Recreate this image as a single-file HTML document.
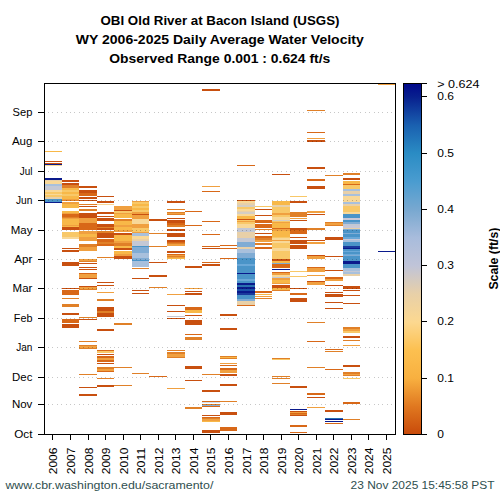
<!DOCTYPE html><html><head><meta charset="utf-8"><style>html,body{margin:0;padding:0;background:#fff;width:500px;height:500px;overflow:hidden}svg{display:block}text{font-family:"Liberation Sans",sans-serif}</style></head><body>
<svg width="500" height="500" viewBox="0 0 500 500" shape-rendering="crispEdges">
<rect width="500" height="500" fill="#fff"/>
<g font-weight="bold" font-size="13" fill="#000" text-anchor="middle">
<text x="220" y="24.6" textLength="239" lengthAdjust="spacingAndGlyphs">OBI Old River at Bacon Island (USGS)</text>
<text x="219.8" y="43.6" textLength="288" lengthAdjust="spacingAndGlyphs">WY 2006-2025 Daily Average Water Velocity</text>
<text x="219.8" y="62.7" textLength="221" lengthAdjust="spacingAndGlyphs">Observed Range 0.001 : 0.624 ft/s</text>
</g>
<g shape-rendering="crispEdges"><rect x="45" y="151" width="17" height="1" fill="#f8b848"/><rect x="45" y="161" width="17" height="1" fill="#c85010"/><rect x="45" y="163" width="17" height="1" fill="#c85010"/><rect x="45" y="164" width="17" height="1" fill="#0a1a8c"/><rect x="45" y="165" width="17" height="1" fill="#f8d898"/><rect x="45" y="178" width="17" height="2" fill="#0a1a8c"/><rect x="45" y="180" width="17" height="1" fill="#e8d0a8"/><rect x="45" y="181" width="17" height="3" fill="#f8d898"/><rect x="45" y="184" width="17" height="2" fill="#a8c0dc"/><rect x="45" y="186" width="17" height="4" fill="#c4c8d4"/><rect x="45" y="190" width="17" height="2" fill="#f8d898"/><rect x="45" y="192" width="17" height="2" fill="#f8c868"/><rect x="45" y="194" width="17" height="1" fill="#f8d898"/><rect x="45" y="195" width="17" height="2" fill="#f8c868"/><rect x="45" y="197" width="17" height="2" fill="#e8d0a8"/><rect x="45" y="199" width="17" height="3" fill="#4a94c8"/><rect x="45" y="202" width="17" height="1" fill="#0a1a8c"/><rect x="62" y="180" width="17" height="2" fill="#c85010"/><rect x="62" y="183" width="17" height="2" fill="#c85010"/><rect x="62" y="185" width="17" height="3" fill="#e08028"/><rect x="62" y="188" width="17" height="2" fill="#f8b848"/><rect x="62" y="190" width="17" height="2" fill="#f8c868"/><rect x="62" y="192" width="17" height="2" fill="#f8b848"/><rect x="62" y="194" width="17" height="2" fill="#f8c868"/><rect x="62" y="196" width="17" height="3" fill="#f8b848"/><rect x="62" y="199" width="17" height="1" fill="#f0a040"/><rect x="62" y="200" width="17" height="1" fill="#e08028"/><rect x="62" y="202" width="17" height="2" fill="#f0a040"/><rect x="62" y="204" width="17" height="4" fill="#f8b848"/><rect x="62" y="211" width="17" height="2" fill="#f8b848"/><rect x="62" y="213" width="17" height="1" fill="#f0a040"/><rect x="62" y="214" width="17" height="3" fill="#d86818"/><rect x="62" y="217" width="17" height="1" fill="#e08028"/><rect x="62" y="218" width="17" height="1" fill="#f0a040"/><rect x="62" y="219" width="17" height="6" fill="#f8b848"/><rect x="62" y="225" width="17" height="1" fill="#f0a040"/><rect x="62" y="226" width="17" height="1" fill="#f8b848"/><rect x="62" y="227" width="17" height="3" fill="#c85010"/><rect x="62" y="232" width="17" height="5" fill="#f8c868"/><rect x="62" y="237" width="17" height="2" fill="#f8d898"/><rect x="62" y="248" width="17" height="1" fill="#c85010"/><rect x="62" y="250" width="17" height="2" fill="#c85010"/><rect x="62" y="262" width="17" height="4" fill="#c85010"/><rect x="62" y="288" width="17" height="1" fill="#c85010"/><rect x="62" y="290" width="17" height="5" fill="#d86818"/><rect x="62" y="298" width="17" height="1" fill="#e08028"/><rect x="62" y="304" width="17" height="3" fill="#e08028"/><rect x="62" y="313" width="17" height="2" fill="#c85010"/><rect x="62" y="319" width="17" height="4" fill="#d86818"/><rect x="62" y="324" width="17" height="4" fill="#c85010"/><rect x="79" y="186" width="18" height="2" fill="#c85010"/><rect x="79" y="190" width="18" height="3" fill="#c85010"/><rect x="79" y="193" width="18" height="3" fill="#d86818"/><rect x="79" y="197" width="18" height="2" fill="#c85010"/><rect x="79" y="200" width="18" height="1" fill="#c85010"/><rect x="79" y="204" width="18" height="1" fill="#e08028"/><rect x="79" y="206" width="18" height="1" fill="#c85010"/><rect x="79" y="209" width="18" height="2" fill="#e08028"/><rect x="79" y="213" width="18" height="5" fill="#c85010"/><rect x="79" y="218" width="18" height="5" fill="#f0a040"/><rect x="79" y="223" width="18" height="7" fill="#d86818"/><rect x="79" y="231" width="18" height="3" fill="#f0a040"/><rect x="79" y="234" width="18" height="3" fill="#f8b848"/><rect x="79" y="237" width="18" height="4" fill="#f0a040"/><rect x="79" y="244" width="18" height="3" fill="#e08028"/><rect x="79" y="247" width="18" height="4" fill="#f0a040"/><rect x="79" y="259" width="18" height="2" fill="#f0a040"/><rect x="79" y="261" width="18" height="1" fill="#e08028"/><rect x="79" y="263" width="18" height="1" fill="#c85010"/><rect x="79" y="267" width="18" height="1" fill="#c85010"/><rect x="79" y="269" width="18" height="1" fill="#c85010"/><rect x="79" y="273" width="18" height="1" fill="#d86818"/><rect x="79" y="274" width="18" height="4" fill="#f0a040"/><rect x="79" y="278" width="18" height="1" fill="#c85010"/><rect x="79" y="286" width="18" height="1" fill="#c85010"/><rect x="79" y="287" width="18" height="2" fill="#f0a040"/><rect x="79" y="289" width="18" height="1" fill="#e08028"/><rect x="79" y="317" width="18" height="1" fill="#e08028"/><rect x="79" y="319" width="18" height="1" fill="#c85010"/><rect x="79" y="341" width="18" height="1" fill="#e08028"/><rect x="79" y="345" width="18" height="1" fill="#e08028"/><rect x="79" y="346" width="18" height="2" fill="#f0a040"/><rect x="79" y="348" width="18" height="1" fill="#e08028"/><rect x="79" y="374" width="18" height="1" fill="#e08028"/><rect x="79" y="387" width="18" height="1" fill="#c85010"/><rect x="79" y="394" width="18" height="2" fill="#c85010"/><rect x="97" y="196" width="17" height="1" fill="#c85010"/><rect x="97" y="201" width="17" height="2" fill="#c85010"/><rect x="97" y="204" width="17" height="1" fill="#f8d898"/><rect x="97" y="212" width="17" height="2" fill="#c85010"/><rect x="97" y="216" width="17" height="1" fill="#c85010"/><rect x="97" y="218" width="17" height="3" fill="#c85010"/><rect x="97" y="224" width="17" height="3" fill="#c85010"/><rect x="97" y="227" width="17" height="1" fill="#e08028"/><rect x="97" y="228" width="17" height="2" fill="#c85010"/><rect x="97" y="231" width="17" height="2" fill="#e08028"/><rect x="97" y="233" width="17" height="5" fill="#c85010"/><rect x="97" y="239" width="17" height="3" fill="#d86818"/><rect x="97" y="242" width="17" height="2" fill="#e08028"/><rect x="97" y="244" width="17" height="2" fill="#d86818"/><rect x="97" y="257" width="17" height="1" fill="#e08028"/><rect x="97" y="282" width="17" height="1" fill="#c85010"/><rect x="97" y="285" width="17" height="1" fill="#c85010"/><rect x="97" y="292" width="17" height="1" fill="#f0a040"/><rect x="97" y="299" width="17" height="2" fill="#e08028"/><rect x="97" y="307" width="17" height="4" fill="#c85010"/><rect x="97" y="311" width="17" height="2" fill="#e08028"/><rect x="97" y="313" width="17" height="4" fill="#c85010"/><rect x="97" y="329" width="17" height="2" fill="#c85010"/><rect x="97" y="350" width="17" height="1" fill="#d86818"/><rect x="97" y="351" width="17" height="2" fill="#f8c868"/><rect x="97" y="354" width="17" height="1" fill="#c85010"/><rect x="97" y="356" width="17" height="2" fill="#d86818"/><rect x="97" y="358" width="17" height="2" fill="#f0a040"/><rect x="97" y="360" width="17" height="2" fill="#d86818"/><rect x="97" y="363" width="17" height="1" fill="#c85010"/><rect x="97" y="367" width="17" height="2" fill="#e08028"/><rect x="97" y="369" width="17" height="2" fill="#f0a040"/><rect x="97" y="371" width="17" height="1" fill="#d86818"/><rect x="97" y="378" width="17" height="1" fill="#e08028"/><rect x="97" y="385" width="17" height="2" fill="#c85010"/><rect x="114" y="206" width="18" height="4" fill="#f0a040"/><rect x="114" y="210" width="18" height="1" fill="#c85010"/><rect x="114" y="211" width="18" height="2" fill="#f8c868"/><rect x="114" y="213" width="18" height="1" fill="#f0a040"/><rect x="114" y="214" width="18" height="4" fill="#f8b848"/><rect x="114" y="219" width="18" height="2" fill="#e08028"/><rect x="114" y="221" width="18" height="4" fill="#f8b848"/><rect x="114" y="225" width="18" height="2" fill="#f0a040"/><rect x="114" y="227" width="18" height="3" fill="#f8b848"/><rect x="114" y="230" width="18" height="2" fill="#f0a040"/><rect x="114" y="233" width="18" height="2" fill="#c85010"/><rect x="114" y="235" width="18" height="6" fill="#f8b848"/><rect x="114" y="241" width="18" height="2" fill="#f0a040"/><rect x="114" y="243" width="18" height="3" fill="#e08028"/><rect x="114" y="246" width="18" height="2" fill="#f8b848"/><rect x="114" y="248" width="18" height="2" fill="#c85010"/><rect x="114" y="251" width="18" height="3" fill="#f8b848"/><rect x="114" y="254" width="18" height="2" fill="#f0a040"/><rect x="114" y="256" width="18" height="3" fill="#c85010"/><rect x="114" y="323" width="18" height="2" fill="#e08028"/><rect x="114" y="367" width="18" height="1" fill="#e08028"/><rect x="114" y="385" width="18" height="1" fill="#e08028"/><rect x="132" y="201" width="17" height="1" fill="#f0a040"/><rect x="132" y="202" width="17" height="2" fill="#f8c868"/><rect x="132" y="204" width="17" height="2" fill="#f8b848"/><rect x="132" y="206" width="17" height="2" fill="#f8c868"/><rect x="132" y="208" width="17" height="2" fill="#f8b848"/><rect x="132" y="210" width="17" height="2" fill="#f8c868"/><rect x="132" y="212" width="17" height="2" fill="#f0a040"/><rect x="132" y="214" width="17" height="1" fill="#c85010"/><rect x="132" y="215" width="17" height="4" fill="#f0a040"/><rect x="132" y="219" width="17" height="5" fill="#f8d898"/><rect x="132" y="224" width="17" height="4" fill="#f0a040"/><rect x="132" y="228" width="17" height="4" fill="#f8c868"/><rect x="132" y="232" width="17" height="1" fill="#f0a040"/><rect x="132" y="233" width="17" height="3" fill="#a8c0dc"/><rect x="132" y="236" width="17" height="3" fill="#f8d898"/><rect x="132" y="239" width="17" height="2" fill="#e8d0a8"/><rect x="132" y="241" width="17" height="5" fill="#c4c8d4"/><rect x="132" y="246" width="17" height="1" fill="#4a94c8"/><rect x="132" y="247" width="17" height="6" fill="#80acd4"/><rect x="132" y="253" width="17" height="5" fill="#a8c0dc"/><rect x="132" y="258" width="17" height="2" fill="#80acd4"/><rect x="132" y="260" width="17" height="1" fill="#4a94c8"/><rect x="132" y="261" width="17" height="6" fill="#a8c0dc"/><rect x="132" y="268" width="17" height="1" fill="#e08028"/><rect x="132" y="278" width="17" height="1" fill="#c85010"/><rect x="132" y="290" width="17" height="1" fill="#c85010"/><rect x="132" y="293" width="17" height="1" fill="#c85010"/><rect x="132" y="373" width="17" height="1" fill="#e08028"/><rect x="149" y="219" width="18" height="2" fill="#c85010"/><rect x="149" y="233" width="18" height="1" fill="#e08028"/><rect x="149" y="246" width="18" height="1" fill="#e08028"/><rect x="149" y="262" width="18" height="1" fill="#c85010"/><rect x="149" y="275" width="18" height="2" fill="#c85010"/><rect x="149" y="287" width="18" height="1" fill="#e08028"/><rect x="149" y="376" width="18" height="1" fill="#d86818"/><rect x="167" y="201" width="18" height="2" fill="#c85010"/><rect x="167" y="209" width="18" height="1" fill="#e08028"/><rect x="167" y="212" width="18" height="1" fill="#e08028"/><rect x="167" y="213" width="18" height="1" fill="#f0a040"/><rect x="167" y="214" width="18" height="1" fill="#e08028"/><rect x="167" y="218" width="18" height="1" fill="#c85010"/><rect x="167" y="220" width="18" height="3" fill="#c85010"/><rect x="167" y="223" width="18" height="2" fill="#d86818"/><rect x="167" y="225" width="18" height="2" fill="#e08028"/><rect x="167" y="229" width="18" height="2" fill="#c85010"/><rect x="167" y="233" width="18" height="4" fill="#c85010"/><rect x="167" y="240" width="18" height="2" fill="#c85010"/><rect x="167" y="242" width="18" height="1" fill="#d86818"/><rect x="167" y="243" width="18" height="1" fill="#e08028"/><rect x="167" y="244" width="18" height="2" fill="#f0a040"/><rect x="167" y="251" width="18" height="2" fill="#c85010"/><rect x="167" y="254" width="18" height="1" fill="#d86818"/><rect x="167" y="255" width="18" height="1" fill="#f0a040"/><rect x="167" y="256" width="18" height="1" fill="#e08028"/><rect x="167" y="257" width="18" height="1" fill="#f0a040"/><rect x="167" y="258" width="18" height="1" fill="#f8b848"/><rect x="167" y="294" width="18" height="1" fill="#f0a040"/><rect x="167" y="305" width="18" height="1" fill="#c85010"/><rect x="167" y="311" width="18" height="1" fill="#c85010"/><rect x="167" y="316" width="18" height="1" fill="#c4c8d4"/><rect x="167" y="318" width="18" height="1" fill="#c85010"/><rect x="167" y="350" width="18" height="1" fill="#e08028"/><rect x="167" y="352" width="18" height="2" fill="#e08028"/><rect x="167" y="354" width="18" height="3" fill="#f0a040"/><rect x="167" y="357" width="18" height="1" fill="#e08028"/><rect x="167" y="388" width="18" height="1" fill="#f0a040"/><rect x="185" y="211" width="17" height="1" fill="#d86818"/><rect x="185" y="225" width="17" height="1" fill="#d86818"/><rect x="185" y="266" width="17" height="2" fill="#c85010"/><rect x="185" y="288" width="17" height="1" fill="#f0a040"/><rect x="185" y="291" width="17" height="1" fill="#c85010"/><rect x="185" y="293" width="17" height="2" fill="#c85010"/><rect x="185" y="307" width="17" height="3" fill="#d86818"/><rect x="185" y="310" width="17" height="3" fill="#f8b848"/><rect x="185" y="315" width="17" height="1" fill="#c85010"/><rect x="185" y="320" width="17" height="5" fill="#c85010"/><rect x="185" y="334" width="17" height="1" fill="#d86818"/><rect x="185" y="337" width="17" height="3" fill="#e08028"/><rect x="185" y="366" width="17" height="3" fill="#c85010"/><rect x="185" y="380" width="17" height="1" fill="#c85010"/><rect x="185" y="407" width="17" height="2" fill="#e08028"/><rect x="202" y="89" width="18" height="2" fill="#c85010"/><rect x="202" y="186" width="18" height="1" fill="#f0a040"/><rect x="202" y="191" width="18" height="1" fill="#d86818"/><rect x="202" y="221" width="18" height="1" fill="#d86818"/><rect x="202" y="234" width="18" height="1" fill="#d86818"/><rect x="202" y="246" width="18" height="1" fill="#d86818"/><rect x="202" y="248" width="18" height="1" fill="#c85010"/><rect x="202" y="262" width="18" height="1" fill="#d86818"/><rect x="202" y="264" width="18" height="2" fill="#c85010"/><rect x="202" y="374" width="18" height="1" fill="#e08028"/><rect x="202" y="390" width="18" height="2" fill="#c85010"/><rect x="202" y="401" width="18" height="1" fill="#d86818"/><rect x="202" y="402" width="18" height="1" fill="#d0e0f0"/><rect x="202" y="404" width="18" height="1" fill="#e08028"/><rect x="202" y="405" width="18" height="1" fill="#80acd4"/><rect x="202" y="406" width="18" height="1" fill="#d86818"/><rect x="202" y="415" width="18" height="1" fill="#c85010"/><rect x="202" y="417" width="18" height="1" fill="#d86818"/><rect x="202" y="418" width="18" height="1" fill="#e08028"/><rect x="202" y="419" width="18" height="2" fill="#f0a040"/><rect x="202" y="421" width="18" height="1" fill="#f8b848"/><rect x="202" y="430" width="18" height="3" fill="#c85010"/><rect x="220" y="245" width="17" height="1" fill="#d86818"/><rect x="220" y="248" width="17" height="1" fill="#d86818"/><rect x="220" y="258" width="17" height="1" fill="#d86818"/><rect x="220" y="314" width="17" height="2" fill="#c85010"/><rect x="220" y="328" width="17" height="2" fill="#c85010"/><rect x="220" y="356" width="17" height="1" fill="#e08028"/><rect x="220" y="357" width="17" height="1" fill="#f8b848"/><rect x="220" y="358" width="17" height="1" fill="#e08028"/><rect x="220" y="363" width="17" height="1" fill="#f0a040"/><rect x="220" y="365" width="17" height="1" fill="#d86818"/><rect x="220" y="368" width="17" height="2" fill="#d86818"/><rect x="220" y="370" width="17" height="3" fill="#f0a040"/><rect x="220" y="374" width="17" height="2" fill="#c85010"/><rect x="220" y="384" width="17" height="2" fill="#c85010"/><rect x="220" y="401" width="17" height="1" fill="#e08028"/><rect x="220" y="412" width="17" height="3" fill="#c85010"/><rect x="220" y="427" width="17" height="4" fill="#d86818"/><rect x="237" y="165" width="18" height="1" fill="#d86818"/><rect x="237" y="200" width="18" height="1" fill="#c85010"/><rect x="237" y="201" width="18" height="2" fill="#f8d898"/><rect x="237" y="203" width="18" height="2" fill="#e8d0a8"/><rect x="237" y="205" width="18" height="2" fill="#d4cec4"/><rect x="237" y="207" width="18" height="2" fill="#f8c868"/><rect x="237" y="209" width="18" height="2" fill="#f8d898"/><rect x="237" y="211" width="18" height="1" fill="#e8d0a8"/><rect x="237" y="212" width="18" height="2" fill="#d4cec4"/><rect x="237" y="214" width="18" height="2" fill="#f8d898"/><rect x="237" y="216" width="18" height="3" fill="#f8b848"/><rect x="237" y="219" width="18" height="1" fill="#c85010"/><rect x="237" y="220" width="18" height="1" fill="#f8c868"/><rect x="237" y="221" width="18" height="1" fill="#f0a040"/><rect x="237" y="222" width="18" height="2" fill="#f8c868"/><rect x="237" y="224" width="18" height="4" fill="#f8d898"/><rect x="237" y="228" width="18" height="4" fill="#c4c8d4"/><rect x="237" y="232" width="18" height="6" fill="#e8d0a8"/><rect x="237" y="238" width="18" height="4" fill="#c4c8d4"/><rect x="237" y="242" width="18" height="5" fill="#80acd4"/><rect x="237" y="247" width="18" height="2" fill="#e8d0a8"/><rect x="237" y="249" width="18" height="4" fill="#a8c0dc"/><rect x="237" y="253" width="18" height="5" fill="#80acd4"/><rect x="237" y="258" width="18" height="6" fill="#4a94c8"/><rect x="237" y="264" width="18" height="2" fill="#6aa8d8"/><rect x="237" y="266" width="18" height="7" fill="#4a94c8"/><rect x="237" y="273" width="18" height="1" fill="#0a1a8c"/><rect x="237" y="274" width="18" height="5" fill="#4a94c8"/><rect x="237" y="279" width="18" height="2" fill="#6aa8d8"/><rect x="237" y="281" width="18" height="2" fill="#4a94c8"/><rect x="237" y="283" width="18" height="2" fill="#0a1a8c"/><rect x="237" y="285" width="18" height="2" fill="#2a70b0"/><rect x="237" y="287" width="18" height="2" fill="#0a1a8c"/><rect x="237" y="289" width="18" height="2" fill="#1a50a8"/><rect x="237" y="291" width="18" height="2" fill="#0a1a8c"/><rect x="237" y="293" width="18" height="2" fill="#1a3a9c"/><rect x="237" y="295" width="18" height="4" fill="#4a94c8"/><rect x="237" y="299" width="18" height="2" fill="#80acd4"/><rect x="237" y="301" width="18" height="4" fill="#e8d0a8"/><rect x="237" y="305" width="18" height="1" fill="#d86818"/><rect x="255" y="206" width="17" height="1" fill="#f8c868"/><rect x="255" y="209" width="17" height="1" fill="#c85010"/><rect x="255" y="215" width="17" height="1" fill="#c85010"/><rect x="255" y="220" width="17" height="3" fill="#d86818"/><rect x="255" y="224" width="17" height="4" fill="#d86818"/><rect x="255" y="229" width="17" height="1" fill="#e08028"/><rect x="255" y="233" width="17" height="1" fill="#c85010"/><rect x="255" y="236" width="17" height="2" fill="#d86818"/><rect x="255" y="238" width="17" height="2" fill="#e08028"/><rect x="255" y="240" width="17" height="2" fill="#f0a040"/><rect x="255" y="243" width="17" height="2" fill="#e08028"/><rect x="255" y="247" width="17" height="2" fill="#d86818"/><rect x="255" y="291" width="17" height="2" fill="#d86818"/><rect x="255" y="294" width="17" height="1" fill="#f8b848"/><rect x="255" y="296" width="17" height="1" fill="#f0a040"/><rect x="255" y="298" width="17" height="1" fill="#e08028"/><rect x="272" y="174" width="18" height="1" fill="#c85010"/><rect x="272" y="201" width="18" height="4" fill="#f8b848"/><rect x="272" y="205" width="18" height="2" fill="#e8d0a8"/><rect x="272" y="207" width="18" height="5" fill="#f8c868"/><rect x="272" y="212" width="18" height="1" fill="#f8c868"/><rect x="272" y="213" width="18" height="2" fill="#f0a040"/><rect x="272" y="215" width="18" height="2" fill="#f8c868"/><rect x="272" y="217" width="18" height="3" fill="#f8d898"/><rect x="272" y="220" width="18" height="1" fill="#d4cec4"/><rect x="272" y="221" width="18" height="1" fill="#f8c868"/><rect x="272" y="222" width="18" height="1" fill="#f0a040"/><rect x="272" y="223" width="18" height="5" fill="#f8b848"/><rect x="272" y="228" width="18" height="1" fill="#d86818"/><rect x="272" y="229" width="18" height="2" fill="#f0a040"/><rect x="272" y="231" width="18" height="6" fill="#f8b848"/><rect x="272" y="237" width="18" height="1" fill="#f8c868"/><rect x="272" y="238" width="18" height="2" fill="#f8d898"/><rect x="272" y="240" width="18" height="1" fill="#f0a040"/><rect x="272" y="241" width="18" height="2" fill="#f8d898"/><rect x="272" y="243" width="18" height="5" fill="#f8c868"/><rect x="272" y="248" width="18" height="3" fill="#f8d898"/><rect x="272" y="251" width="18" height="8" fill="#f8c868"/><rect x="272" y="259" width="18" height="2" fill="#c85010"/><rect x="272" y="261" width="18" height="2" fill="#f8b848"/><rect x="272" y="263" width="18" height="1" fill="#80acd4"/><rect x="272" y="264" width="18" height="2" fill="#d86818"/><rect x="272" y="266" width="18" height="2" fill="#d86818"/><rect x="272" y="269" width="18" height="1" fill="#0a1a8c"/><rect x="272" y="272" width="18" height="1" fill="#d86818"/><rect x="272" y="273" width="18" height="2" fill="#f0a040"/><rect x="272" y="275" width="18" height="2" fill="#f8d898"/><rect x="272" y="277" width="18" height="1" fill="#c4c8d4"/><rect x="272" y="278" width="18" height="2" fill="#f0a040"/><rect x="272" y="280" width="18" height="3" fill="#f8b848"/><rect x="272" y="283" width="18" height="1" fill="#f0a040"/><rect x="272" y="285" width="18" height="3" fill="#c85010"/><rect x="272" y="288" width="18" height="2" fill="#f8b848"/><rect x="272" y="290" width="18" height="1" fill="#e08028"/><rect x="272" y="358" width="18" height="1" fill="#e08028"/><rect x="272" y="359" width="18" height="1" fill="#f8c868"/><rect x="272" y="376" width="18" height="1" fill="#e08028"/><rect x="272" y="378" width="18" height="1" fill="#e08028"/><rect x="272" y="383" width="18" height="1" fill="#e08028"/><rect x="290" y="196" width="17" height="1" fill="#f8c868"/><rect x="290" y="201" width="17" height="2" fill="#c85010"/><rect x="290" y="212" width="17" height="5" fill="#e08028"/><rect x="290" y="218" width="17" height="1" fill="#f0a040"/><rect x="290" y="220" width="17" height="1" fill="#c85010"/><rect x="290" y="228" width="17" height="2" fill="#c85010"/><rect x="290" y="230" width="17" height="4" fill="#d86818"/><rect x="290" y="237" width="17" height="1" fill="#c85010"/><rect x="290" y="240" width="17" height="4" fill="#c85010"/><rect x="290" y="245" width="17" height="4" fill="#c85010"/><rect x="290" y="271" width="17" height="1" fill="#f8c868"/><rect x="290" y="276" width="17" height="1" fill="#f8c868"/><rect x="290" y="288" width="17" height="1" fill="#c85010"/><rect x="290" y="293" width="17" height="2" fill="#d86818"/><rect x="290" y="298" width="17" height="4" fill="#c85010"/><rect x="290" y="386" width="17" height="2" fill="#c85010"/><rect x="290" y="409" width="17" height="1" fill="#0a1a8c"/><rect x="290" y="411" width="17" height="1" fill="#c85010"/><rect x="290" y="412" width="17" height="1" fill="#f0a040"/><rect x="290" y="413" width="17" height="1" fill="#d86818"/><rect x="290" y="414" width="17" height="1" fill="#e08028"/><rect x="290" y="415" width="17" height="1" fill="#c85010"/><rect x="290" y="425" width="17" height="2" fill="#d86818"/><rect x="290" y="432" width="17" height="1" fill="#d86818"/><rect x="307" y="110" width="18" height="1" fill="#e08028"/><rect x="307" y="132" width="18" height="1" fill="#d86818"/><rect x="307" y="138" width="18" height="1" fill="#f0a040"/><rect x="307" y="140" width="18" height="2" fill="#c85010"/><rect x="307" y="167" width="18" height="2" fill="#c85010"/><rect x="307" y="179" width="18" height="2" fill="#d86818"/><rect x="307" y="186" width="18" height="3" fill="#c85010"/><rect x="307" y="211" width="18" height="2" fill="#f0a040"/><rect x="307" y="214" width="18" height="1" fill="#c85010"/><rect x="307" y="228" width="18" height="2" fill="#e08028"/><rect x="307" y="240" width="18" height="1" fill="#c85010"/><rect x="307" y="242" width="18" height="2" fill="#f0a040"/><rect x="307" y="255" width="18" height="1" fill="#c85010"/><rect x="307" y="256" width="18" height="3" fill="#f0a040"/><rect x="307" y="267" width="18" height="1" fill="#d86818"/><rect x="307" y="268" width="18" height="4" fill="#f0a040"/><rect x="307" y="275" width="18" height="1" fill="#f0a040"/><rect x="307" y="281" width="18" height="1" fill="#c85010"/><rect x="307" y="282" width="18" height="3" fill="#f0a040"/><rect x="307" y="322" width="18" height="1" fill="#e08028"/><rect x="307" y="341" width="18" height="1" fill="#d86818"/><rect x="307" y="367" width="18" height="1" fill="#e08028"/><rect x="307" y="393" width="18" height="2" fill="#d86818"/><rect x="307" y="397" width="18" height="1" fill="#c85010"/><rect x="307" y="407" width="18" height="1" fill="#f0a040"/><rect x="325" y="175" width="18" height="1" fill="#e08028"/><rect x="325" y="222" width="18" height="1" fill="#e08028"/><rect x="325" y="223" width="18" height="2" fill="#f0a040"/><rect x="325" y="225" width="18" height="1" fill="#e08028"/><rect x="325" y="237" width="18" height="3" fill="#c85010"/><rect x="325" y="256" width="18" height="1" fill="#c85010"/><rect x="325" y="270" width="18" height="1" fill="#c85010"/><rect x="325" y="277" width="18" height="2" fill="#d86818"/><rect x="325" y="279" width="18" height="2" fill="#f0a040"/><rect x="325" y="285" width="18" height="1" fill="#c85010"/><rect x="325" y="292" width="18" height="1" fill="#c85010"/><rect x="325" y="294" width="18" height="3" fill="#c85010"/><rect x="325" y="302" width="18" height="1" fill="#c85010"/><rect x="325" y="308" width="18" height="1" fill="#c85010"/><rect x="325" y="349" width="18" height="1" fill="#d86818"/><rect x="325" y="351" width="18" height="1" fill="#e08028"/><rect x="325" y="369" width="18" height="1" fill="#d86818"/><rect x="325" y="410" width="18" height="2" fill="#c85010"/><rect x="325" y="418" width="18" height="1" fill="#2a70b0"/><rect x="325" y="419" width="18" height="1" fill="#0a1a8c"/><rect x="325" y="421" width="18" height="1" fill="#0a1a8c"/><rect x="325" y="423" width="18" height="1" fill="#d86818"/><rect x="343" y="173" width="17" height="2" fill="#e08028"/><rect x="343" y="178" width="17" height="2" fill="#c85010"/><rect x="343" y="181" width="17" height="3" fill="#f8b848"/><rect x="343" y="184" width="17" height="1" fill="#d86818"/><rect x="343" y="185" width="17" height="4" fill="#f8c868"/><rect x="343" y="189" width="17" height="2" fill="#a8c0dc"/><rect x="343" y="191" width="17" height="3" fill="#e8d0a8"/><rect x="343" y="194" width="17" height="2" fill="#a8c0dc"/><rect x="343" y="196" width="17" height="6" fill="#f8d898"/><rect x="343" y="202" width="17" height="2" fill="#a8c0dc"/><rect x="343" y="204" width="17" height="2" fill="#e8d0a8"/><rect x="343" y="206" width="17" height="6" fill="#f8c868"/><rect x="343" y="212" width="17" height="2" fill="#f8d898"/><rect x="343" y="214" width="17" height="4" fill="#4a94c8"/><rect x="343" y="218" width="17" height="2" fill="#c8c8d8"/><rect x="343" y="220" width="17" height="2" fill="#4a94c8"/><rect x="343" y="222" width="17" height="2" fill="#80acd4"/><rect x="343" y="224" width="17" height="2" fill="#c4c8d4"/><rect x="343" y="226" width="17" height="2" fill="#c8c8d8"/><rect x="343" y="228" width="17" height="1" fill="#e8d0a8"/><rect x="343" y="229" width="17" height="1" fill="#80acd4"/><rect x="343" y="230" width="17" height="3" fill="#4a94c8"/><rect x="343" y="233" width="17" height="1" fill="#80acd4"/><rect x="343" y="234" width="17" height="3" fill="#4a94c8"/><rect x="343" y="237" width="17" height="2" fill="#6aa8d8"/><rect x="343" y="239" width="17" height="1" fill="#c8c8d8"/><rect x="343" y="240" width="17" height="2" fill="#a8c0dc"/><rect x="343" y="242" width="17" height="2" fill="#4a94c8"/><rect x="343" y="244" width="17" height="2" fill="#4a94c8"/><rect x="343" y="246" width="17" height="2" fill="#1a3a9c"/><rect x="343" y="248" width="17" height="1" fill="#0a1a8c"/><rect x="343" y="249" width="17" height="2" fill="#4a94c8"/><rect x="343" y="251" width="17" height="1" fill="#6aa8d8"/><rect x="343" y="252" width="17" height="2" fill="#4a94c8"/><rect x="343" y="254" width="17" height="1" fill="#6aa8d8"/><rect x="343" y="255" width="17" height="1" fill="#80acd4"/><rect x="343" y="256" width="17" height="5" fill="#4a94c8"/><rect x="343" y="261" width="17" height="3" fill="#0a1a8c"/><rect x="343" y="264" width="17" height="4" fill="#4a94c8"/><rect x="343" y="268" width="17" height="3" fill="#a8c0dc"/><rect x="343" y="271" width="17" height="1" fill="#c4c8d4"/><rect x="343" y="272" width="17" height="2" fill="#a8c0dc"/><rect x="343" y="274" width="17" height="2" fill="#e8d0a8"/><rect x="343" y="286" width="17" height="3" fill="#c85010"/><rect x="343" y="290" width="17" height="1" fill="#c85010"/><rect x="343" y="295" width="17" height="1" fill="#c85010"/><rect x="343" y="303" width="17" height="1" fill="#c85010"/><rect x="343" y="327" width="17" height="2" fill="#e08028"/><rect x="343" y="329" width="17" height="2" fill="#f0a040"/><rect x="343" y="331" width="17" height="2" fill="#f8c868"/><rect x="343" y="336" width="17" height="2" fill="#c85010"/><rect x="343" y="340" width="17" height="1" fill="#e08028"/><rect x="343" y="345" width="17" height="1" fill="#f0a040"/><rect x="343" y="365" width="17" height="2" fill="#c85010"/><rect x="343" y="372" width="17" height="2" fill="#e08028"/><rect x="343" y="374" width="17" height="1" fill="#f0a040"/><rect x="343" y="375" width="17" height="1" fill="#e08028"/><rect x="343" y="378" width="17" height="1" fill="#f8c868"/><rect x="343" y="402" width="17" height="2" fill="#d86818"/><rect x="343" y="419" width="17" height="1" fill="#e08028"/><rect x="378" y="84" width="17" height="1" fill="#f0a040"/><rect x="378" y="251" width="17" height="1" fill="#0a1a8c"/></g>
<g stroke="#000" stroke-opacity="0.22" stroke-width="1" stroke-dasharray="1,3.4">
<line x1="48" y1="404.5" x2="395" y2="404.5"/>
<line x1="48" y1="377.5" x2="395" y2="377.5"/>
<line x1="48" y1="347.5" x2="395" y2="347.5"/>
<line x1="48" y1="318.5" x2="395" y2="318.5"/>
<line x1="48" y1="288.5" x2="395" y2="288.5"/>
<line x1="48" y1="259.5" x2="395" y2="259.5"/>
<line x1="48" y1="230.5" x2="395" y2="230.5"/>
<line x1="48" y1="200.5" x2="395" y2="200.5"/>
<line x1="48" y1="171.5" x2="395" y2="171.5"/>
<line x1="48" y1="141.5" x2="395" y2="141.5"/>
<line x1="48" y1="112.5" x2="395" y2="112.5"/>
</g>
<rect x="44.5" y="83.5" width="351" height="351" fill="none" stroke="#000" stroke-width="1"/>
<g stroke="#000" stroke-width="1">
<line x1="38" y1="434.5" x2="44" y2="434.5"/>
<line x1="38" y1="404.5" x2="44" y2="404.5"/>
<line x1="38" y1="377.5" x2="44" y2="377.5"/>
<line x1="38" y1="347.5" x2="44" y2="347.5"/>
<line x1="38" y1="318.5" x2="44" y2="318.5"/>
<line x1="38" y1="288.5" x2="44" y2="288.5"/>
<line x1="38" y1="259.5" x2="44" y2="259.5"/>
<line x1="38" y1="230.5" x2="44" y2="230.5"/>
<line x1="38" y1="200.5" x2="44" y2="200.5"/>
<line x1="38" y1="171.5" x2="44" y2="171.5"/>
<line x1="38" y1="141.5" x2="44" y2="141.5"/>
<line x1="38" y1="112.5" x2="44" y2="112.5"/>
</g>
<g font-size="10.5" fill="#000" text-anchor="end">
<text x="32.4" y="438.3" textLength="18.2" lengthAdjust="spacingAndGlyphs">Oct</text>
<text x="32.4" y="408.3" textLength="20.5" lengthAdjust="spacingAndGlyphs">Nov</text>
<text x="32.4" y="381.3" textLength="20.3" lengthAdjust="spacingAndGlyphs">Dec</text>
<text x="32.4" y="351.3" textLength="16.2" lengthAdjust="spacingAndGlyphs">Jan</text>
<text x="32.4" y="322.3" textLength="18.6" lengthAdjust="spacingAndGlyphs">Feb</text>
<text x="32.4" y="292.3" textLength="19.8" lengthAdjust="spacingAndGlyphs">Mar</text>
<text x="32.4" y="263.3" textLength="18.2" lengthAdjust="spacingAndGlyphs">Apr</text>
<text x="32.4" y="234.3" textLength="21.7" lengthAdjust="spacingAndGlyphs">May</text>
<text x="32.4" y="204.3" textLength="16.4" lengthAdjust="spacingAndGlyphs">Jun</text>
<text x="32.4" y="175.3" textLength="12.7" lengthAdjust="spacingAndGlyphs">Jul</text>
<text x="32.4" y="145.3" textLength="20.5" lengthAdjust="spacingAndGlyphs">Aug</text>
<text x="32.4" y="116.3" textLength="19.8" lengthAdjust="spacingAndGlyphs">Sep</text>
</g>
<g stroke="#000" stroke-width="1">
<line x1="52.5" y1="434" x2="52.5" y2="440"/>
<line x1="70.5" y1="434" x2="70.5" y2="440"/>
<line x1="88.5" y1="434" x2="88.5" y2="440"/>
<line x1="105.5" y1="434" x2="105.5" y2="440"/>
<line x1="123.5" y1="434" x2="123.5" y2="440"/>
<line x1="140.5" y1="434" x2="140.5" y2="440"/>
<line x1="158.5" y1="434" x2="158.5" y2="440"/>
<line x1="175.5" y1="434" x2="175.5" y2="440"/>
<line x1="193.5" y1="434" x2="193.5" y2="440"/>
<line x1="210.5" y1="434" x2="210.5" y2="440"/>
<line x1="228.5" y1="434" x2="228.5" y2="440"/>
<line x1="246.5" y1="434" x2="246.5" y2="440"/>
<line x1="263.5" y1="434" x2="263.5" y2="440"/>
<line x1="281.5" y1="434" x2="281.5" y2="440"/>
<line x1="298.5" y1="434" x2="298.5" y2="440"/>
<line x1="316.5" y1="434" x2="316.5" y2="440"/>
<line x1="333.5" y1="434" x2="333.5" y2="440"/>
<line x1="351.5" y1="434" x2="351.5" y2="440"/>
<line x1="368.5" y1="434" x2="368.5" y2="440"/>
<line x1="386.5" y1="434" x2="386.5" y2="440"/>
</g>
<g font-size="10.5" fill="#000" text-anchor="end">
<text transform="translate(57.1,447.6) rotate(-90)" textLength="26.7" lengthAdjust="spacingAndGlyphs">2006</text>
<text transform="translate(75.1,447.6) rotate(-90)" textLength="26.7" lengthAdjust="spacingAndGlyphs">2007</text>
<text transform="translate(93.1,447.6) rotate(-90)" textLength="26.7" lengthAdjust="spacingAndGlyphs">2008</text>
<text transform="translate(110.1,447.6) rotate(-90)" textLength="26.7" lengthAdjust="spacingAndGlyphs">2009</text>
<text transform="translate(128.1,447.6) rotate(-90)" textLength="26.7" lengthAdjust="spacingAndGlyphs">2010</text>
<text transform="translate(145.1,447.6) rotate(-90)" textLength="26.7" lengthAdjust="spacingAndGlyphs">2011</text>
<text transform="translate(163.1,447.6) rotate(-90)" textLength="26.7" lengthAdjust="spacingAndGlyphs">2012</text>
<text transform="translate(180.1,447.6) rotate(-90)" textLength="26.7" lengthAdjust="spacingAndGlyphs">2013</text>
<text transform="translate(198.1,447.6) rotate(-90)" textLength="26.7" lengthAdjust="spacingAndGlyphs">2014</text>
<text transform="translate(215.1,447.6) rotate(-90)" textLength="26.7" lengthAdjust="spacingAndGlyphs">2015</text>
<text transform="translate(233.1,447.6) rotate(-90)" textLength="26.7" lengthAdjust="spacingAndGlyphs">2016</text>
<text transform="translate(251.1,447.6) rotate(-90)" textLength="26.7" lengthAdjust="spacingAndGlyphs">2017</text>
<text transform="translate(268.1,447.6) rotate(-90)" textLength="26.7" lengthAdjust="spacingAndGlyphs">2018</text>
<text transform="translate(286.1,447.6) rotate(-90)" textLength="26.7" lengthAdjust="spacingAndGlyphs">2019</text>
<text transform="translate(303.1,447.6) rotate(-90)" textLength="26.7" lengthAdjust="spacingAndGlyphs">2020</text>
<text transform="translate(321.1,447.6) rotate(-90)" textLength="26.7" lengthAdjust="spacingAndGlyphs">2021</text>
<text transform="translate(338.1,447.6) rotate(-90)" textLength="26.7" lengthAdjust="spacingAndGlyphs">2022</text>
<text transform="translate(356.1,447.6) rotate(-90)" textLength="26.7" lengthAdjust="spacingAndGlyphs">2023</text>
<text transform="translate(373.1,447.6) rotate(-90)" textLength="26.7" lengthAdjust="spacingAndGlyphs">2024</text>
<text transform="translate(391.1,447.6) rotate(-90)" textLength="26.7" lengthAdjust="spacingAndGlyphs">2025</text>
</g>
<defs><linearGradient id="cb" x1="0" y1="1" x2="0" y2="0">
<stop offset="0.0000" stop-color="#c84a0a"/>
<stop offset="0.0801" stop-color="#e07820"/>
<stop offset="0.1603" stop-color="#f8b040"/>
<stop offset="0.2404" stop-color="#fcc050"/>
<stop offset="0.3205" stop-color="#fcd890"/>
<stop offset="0.4006" stop-color="#e8d0a8"/>
<stop offset="0.4808" stop-color="#c0c4d8"/>
<stop offset="0.5609" stop-color="#a8bcdc"/>
<stop offset="0.6410" stop-color="#78a8d0"/>
<stop offset="0.7212" stop-color="#4a9cd0"/>
<stop offset="0.8013" stop-color="#2a8cc4"/>
<stop offset="0.8814" stop-color="#1a60b0"/>
<stop offset="0.9615" stop-color="#08208e"/>
<stop offset="1.0000" stop-color="#00088a"/>
</linearGradient></defs>
<rect x="403.5" y="83.5" width="18" height="351" fill="url(#cb)" stroke="#000" stroke-width="1"/>
<g stroke="#000" stroke-width="1">
<line x1="421" y1="434.5" x2="427" y2="434.5"/>
<line x1="421" y1="378.5" x2="427" y2="378.5"/>
<line x1="421" y1="321.5" x2="427" y2="321.5"/>
<line x1="421" y1="265.5" x2="427" y2="265.5"/>
<line x1="421" y1="209.5" x2="427" y2="209.5"/>
<line x1="421" y1="153.5" x2="427" y2="153.5"/>
<line x1="421" y1="96.5" x2="427" y2="96.5"/>
<line x1="421" y1="83.5" x2="427" y2="83.5"/>
</g>
<g font-size="10.5" fill="#000">
<text x="437.3" y="437.9" textLength="6.7" lengthAdjust="spacingAndGlyphs">0</text>
<text x="437.3" y="381.6" textLength="16.7" lengthAdjust="spacingAndGlyphs">0.1</text>
<text x="437.3" y="325.4" textLength="16.7" lengthAdjust="spacingAndGlyphs">0.2</text>
<text x="437.3" y="269.1" textLength="16.7" lengthAdjust="spacingAndGlyphs">0.3</text>
<text x="437.3" y="212.8" textLength="16.7" lengthAdjust="spacingAndGlyphs">0.4</text>
<text x="437.3" y="156.5" textLength="16.7" lengthAdjust="spacingAndGlyphs">0.5</text>
<text x="437.3" y="100.3" textLength="16.7" lengthAdjust="spacingAndGlyphs">0.6</text>
<text x="437.3" y="87.5" textLength="42.2" lengthAdjust="spacingAndGlyphs">&gt; 0.624</text>
</g>
<text transform="translate(498.3,258.6) rotate(-90)" text-anchor="middle" font-weight="bold" font-size="12.5" textLength="62" lengthAdjust="spacingAndGlyphs">Scale (ft/s)</text>
<text x="5.4" y="489" font-size="11" fill="#2f4f4f" textLength="208" lengthAdjust="spacingAndGlyphs">www.cbr.washington.edu/sacramento/</text>
<text x="350.6" y="489" font-size="11" fill="#2f4f4f" textLength="144" lengthAdjust="spacingAndGlyphs">23 Nov 2025 15:45:58 PST</text>
</svg></body></html>
